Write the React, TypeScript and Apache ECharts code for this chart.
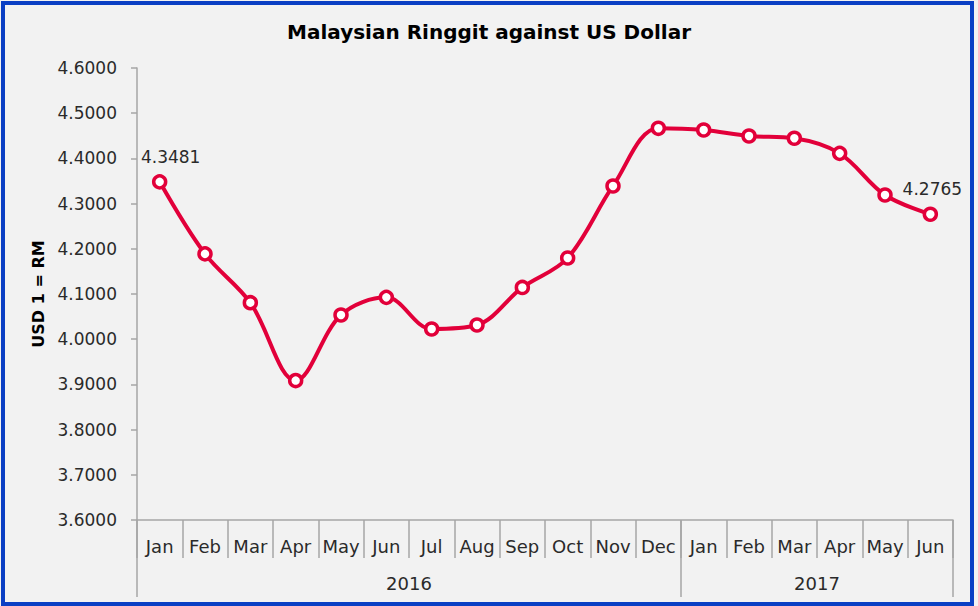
import React, { useEffect, useRef } from "react";
import * as echarts from "echarts";

const months = ["Jan", "Feb", "Mar", "Apr", "May", "Jun", "Jul", "Aug", "Sep", "Oct", "Nov", "Dec", "Jan", "Feb", "Mar", "Apr", "May", "Jun"];
const rates = [4.3481, 4.1887, 4.0808, 3.9085, 4.0535, 4.0926, 4.0226, 4.0314, 4.1145, 4.1796, 4.3390, 4.4666, 4.4628, 4.4496, 4.4445, 4.4112, 4.3190, 4.2765];
const years = ["2016", "2017"];
const yearMonthCounts = [12, 6];
const labelledIndexes = [0, 17];

const FONT = "DejaVu Sans";

export default function App() {
  const ref = useRef<HTMLDivElement>(null);
  useEffect(() => {
    if (!ref.current) return;
    const chart = echarts.init(ref.current, null, { renderer: "svg" });
    const yearBounds: number[] = [0];
    const yearCenters: number[] = [];
    yearMonthCounts.forEach((c) => {
      const start = yearBounds[yearBounds.length - 1];
      yearCenters.push(start + c / 2);
      yearBounds.push(start + c);
    });
    const monthBounds = months.map((_, i) => i).concat([months.length]);
    const axisColor = "#a6a6a6";
    const textColor = "#2a2a2a";
    chart.setOption({
      animation: false,
      backgroundColor: "#f2f2f2",
      title: {
        text: "Malaysian Ringgit against US Dollar",
        left: "center",
        top: 17,
        textStyle: { fontFamily: FONT, fontWeight: "bold", fontSize: 20, color: "#000" },
      },
      graphic: [
        {
          type: "rect",
          shape: { x: 3, y: 3, width: 969, height: 601 },
          style: { fill: "none", stroke: "#0a3fc4", lineWidth: 4 },
          silent: true,
        },
      ],
      grid: { left: 137, right: 25, top: 68, bottom: 86, containLabel: false },
      xAxis: [
        {
          type: "category",
          data: months,
          position: "bottom",
          boundaryGap: true,
          axisLine: { show: true, lineStyle: { color: axisColor, width: 1.5 } },
          axisTick: { show: false },
          axisLabel: { interval: 0, margin: 17, fontFamily: FONT, fontSize: 18, color: textColor },
        },
        {
          type: "value",
          min: 0,
          max: months.length,
          position: "bottom",
          offset: 0,
          axisLine: { show: false },
          splitLine: { show: false },
          axisTick: { show: true, length: 38, customValues: monthBounds, lineStyle: { color: axisColor, width: 1.5 } },
          axisLabel: { show: false },
        },
        {
          type: "value",
          min: 0,
          max: months.length,
          position: "bottom",
          offset: 0,
          axisLine: { show: false },
          splitLine: { show: false },
          axisTick: { show: true, length: 77, customValues: yearBounds, lineStyle: { color: axisColor, width: 1.5 } },
          axisLabel: {
            customValues: yearCenters,
            margin: 54,
            fontFamily: FONT,
            fontSize: 18,
            color: textColor,
            formatter: (v: number) => {
              const i = yearCenters.findIndex((c) => Math.abs(c - v) < 1e-6);
              return i >= 0 ? years[i] : "";
            },
          },
        },
      ],
      yAxis: {
        type: "value",
        min: 3.6,
        max: 4.6,
        interval: 0.1,
        name: "USD 1 = RM",
        nameLocation: "middle",
        nameRotate: 90,
        nameGap: 89,
        nameTextStyle: { fontFamily: FONT, fontWeight: "bold", fontSize: 16, color: "#000" },
        axisLine: { show: true, lineStyle: { color: axisColor, width: 1.5 } },
        axisTick: { show: true, length: 6, lineStyle: { color: axisColor, width: 1.5 } },
        splitLine: { show: false },
        axisLabel: {
          margin: 20,
          fontFamily: FONT,
          fontSize: 17,
          color: textColor,
          formatter: (v: number) => v.toFixed(4),
        },
      },
      series: [
        {
          type: "line",
          xAxisIndex: 0,
          smooth: 0.35,
          symbol: "circle",
          symbolSize: 12,
          lineStyle: { color: "#e2003a", width: 4 },
          itemStyle: { color: "#ffffff", borderColor: "#e2003a", borderWidth: 3.5 },
          data: rates.map((v, i) =>
            labelledIndexes.includes(i)
              ? {
                  value: v,
                  label: {
                    show: true,
                    position: "top",
                    distance: 9,
                    offset: i === 0 ? [11, 0] : [2, 0],
                    fontFamily: FONT,
                    fontSize: 17,
                    color: textColor,
                    formatter: (p: any) => (p.value as number).toFixed(4),
                  },
                }
              : v
          ),
        },
      ],
    });
    return () => chart.dispose();
  }, []);
  return <div ref={ref} style={{ position: "fixed", left: 0, top: 0, width: 978, height: 606 }} />;
}
